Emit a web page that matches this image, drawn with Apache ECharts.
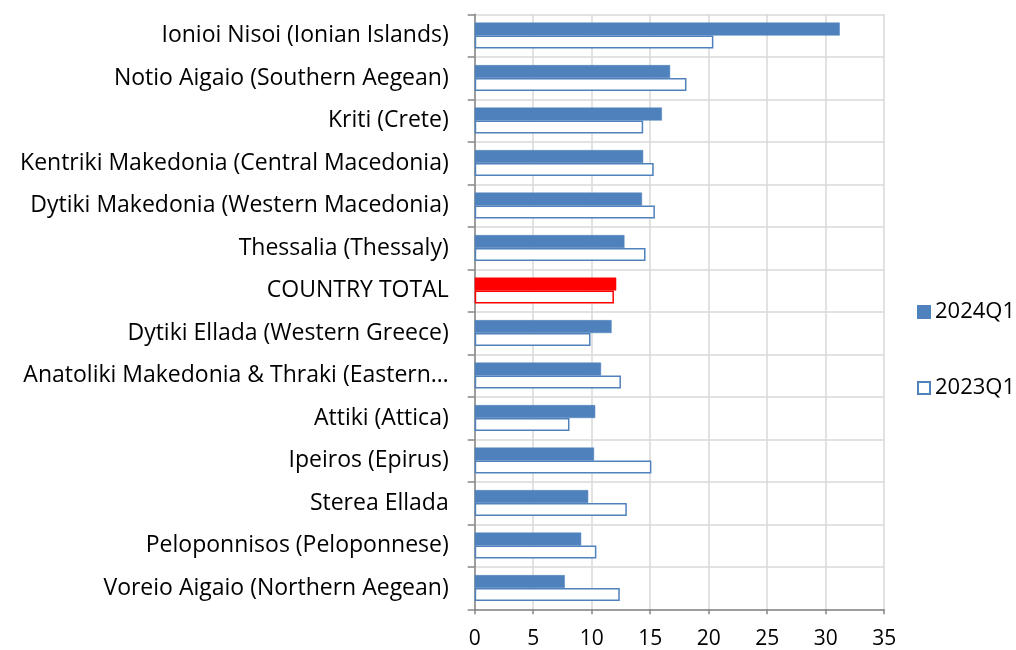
<!DOCTYPE html>
<html>
<head>
<meta charset="utf-8">
<script src="https://cdn.jsdelivr.net/npm/echarts@6/dist/echarts.min.js"></script>
<style>html,body{margin:0;padding:0;background:#fff}#c{width:1016px;height:650px}</style>
</head>
<body>
<div id="c"></div>
<script>
const categories = [
  "Ionioi Nisoi (Ionian Islands)",
  "Notio Aigaio (Southern Aegean)",
  "Kriti (Crete)",
  "Kentriki Makedonia (Central Macedonia)",
  "Dytiki Makedonia (Western Macedonia)",
  "Thessalia (Thessaly)",
  "COUNTRY TOTAL",
  "Dytiki Ellada (Western Greece)",
  "Anatoliki Makedonia & Thraki (Eastern…",
  "Attiki (Attica)",
  "Ipeiros (Epirus)",
  "Sterea Ellada",
  "Peloponnisos (Peloponnese)",
  "Voreio Aigaio (Northern Aegean)"
];
const values2024Q1 = [31.2, 16.7, 16.0, 14.4, 14.3, 12.8, 12.1, 11.7, 10.8, 10.3, 10.2, 9.7, 9.1, 7.7];
const values2023Q1 = [20.4, 18.1, 14.4, 15.3, 15.4, 14.6, 11.9, 9.9, 12.5, 8.1, 15.1, 13.0, 10.4, 12.4];
const seriesNames = ["2024Q1", "2023Q1"];
const highlightCategory = "COUNTRY TOTAL";

const BLUE = "#4F81BD", RED = "#FF0000";
const FONT = "Open Sans";

const d2024 = values2024Q1.map((v, i) => categories[i] === highlightCategory
  ? { value: v, itemStyle: { color: RED, borderColor: RED } } : v);
const d2023 = values2023Q1.map((v, i) => categories[i] === highlightCategory
  ? { value: v, itemStyle: { color: "#fff", borderColor: RED } } : v);

const chart = echarts.init(document.getElementById('c'), null, { renderer: 'canvas' });
chart.setOption({
  animation: false,
  backgroundColor: "#fff",
  textStyle: { fontFamily: FONT },
  grid: { left: 474.7, right: 131.8, top: 14.3, bottom: 40.7, containLabel: false },
  legend: {
    orient: 'vertical', left: 912, top: 296, itemGap: 54,
    itemWidth: 12, itemHeight: 12, icon: 'rect',
    textStyle: { fontFamily: FONT, fontSize: 22, color: "#000" },
    data: seriesNames
  },
  xAxis: {
    type: 'value', min: 0, max: 35, interval: 5,
    axisLine: { show: true, lineStyle: { color: "#868686", width: 1.5 } },
    axisTick: { show: true, length: 5, lineStyle: { color: "#868686", width: 1.5 } },
    axisLabel: { fontFamily: FONT, fontSize: 21, color: "#000", margin: 19 },
    splitLine: { show: true, lineStyle: { color: "#D9D9D9", width: 1.5 } }
  },
  yAxis: {
    type: 'category', data: categories, inverse: true,
    axisLine: { show: true, lineStyle: { color: "#868686", width: 1.5 } },
    axisTick: { show: true, length: 7, lineStyle: { color: "#868686", width: 1.5 } },
    axisLabel: { fontFamily: FONT, fontSize: 23, color: "#000", margin: 26 },
    splitLine: { show: true, lineStyle: { color: "#D9D9D9", width: 1.5 } }
  },
  series: [
    { name: seriesNames[0], type: 'bar', data: d2024, barGap: '0%', barCategoryGap: '39%',
      itemStyle: { color: BLUE, borderColor: BLUE, borderWidth: 0.5 } },
    { name: seriesNames[1], type: 'bar', data: d2023, barGap: '0%', barCategoryGap: '39%',
      itemStyle: { color: "#fff", borderColor: BLUE, borderWidth: 1.5 } }
  ]
});
</script>
</body>
</html>
